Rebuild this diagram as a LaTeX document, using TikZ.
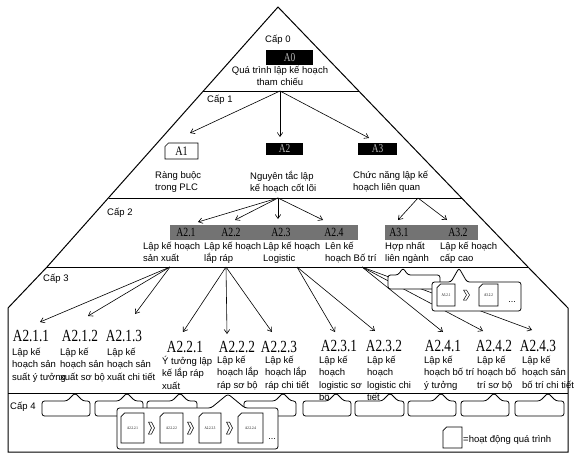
\documentclass[tikz,border=0pt]{standalone}
\usepackage{fontspec}
\setmainfont{Liberation Sans}
\newfontfamily\codefont[FakeStretch=0.78]{Liberation Serif}
\usetikzlibrary{arrows.meta,calc}

\tikzset{
  lbl/.style={font=\fontsize{9.5}{12.3}\selectfont, inner sep=0pt, align=left, anchor=north west},
  capl/.style={font=\fontsize{9.5}{12}\selectfont, inner sep=0pt, anchor=west},
  code/.style={font=\codefont\fontsize{17}{18}\selectfont, inner sep=0pt},
  bandcode/.style={font=\codefont\fontsize{12.5}{13}\selectfont, inner sep=0pt},
  arr/.style={-{Straight Barb[length=4pt,width=5.5pt]}, line width=0.6pt},
  outline/.style={line width=1pt, line join=miter},
  callbox/.style={draw=black, fill=white, line width=0.8pt, rounded corners=2.5pt},
  docline/.style={draw=black, fill=white, line width=0.7pt},
  chevl/.style={draw=black, line width=0.5pt, line join=miter},
  blackbox/.style={fill=black, inner sep=0pt, text=gray!55, font=\codefont\fontsize{12}{12}\selectfont},
  grayband/.style={fill=black!55, draw=none},
}

\newcommand\callout[7]{%
  \filldraw[callbox] (#1,#2) -- ({#5-#6},#2) -- (#5,#7) -- ({#5+#6},#2) -- (#3,#2) -- (#3,#4) -- (#1,#4) -- cycle;}
\newcommand\docbox[6]{%
  \filldraw[docline] ({#2-#4/2+3.5},{#3-#5/2}) -- ({#2+#4/2},{#3-#5/2}) -- ({#2+#4/2},{#3+#5/2}) -- ({#2-#4/2},{#3+#5/2}) -- ({#2-#4/2},{#3-#5/2+3.5}) -- cycle;
  \node[inner sep=0pt] (#1) at (#2,#3) {#6};}
\newcommand\chev[3]{%
  \draw[chevl] ({#1-2.5},{#2-#3}) -- ({#1+0.5},{#2-#3}) -- ({#1+3.5},#2) -- ({#1+0.5},{#2+#3}) -- ({#1-2.5},{#2+#3}) -- ({#1+0.5},#2) -- cycle;}

\begin{document}
\begin{tikzpicture}[x=1pt,y=-1pt]
\path[fill=white,use as bounding box] (0,0) rectangle (576,461);

% ---------- outline ----------
\draw[outline] (278,7) -- (47,267) -- (8,308) -- (8,452) -- (568,452) -- (568,308) -- (528,267) -- cycle;
\draw[outline] (203,91) -- (359,91);
\draw[outline] (109,198) -- (462,198);
\draw[outline] (47,267) -- (528,267);
\draw[outline] (8,393) -- (568,393);

% ---------- level labels ----------
\node[capl] (cap0) at (265,40) {Cấp 0};
\node[capl] (cap1) at (207,100) {Cấp 1};
\node[capl] (cap2) at (107,213) {Cấp 2};
\node[capl] (cap3) at (43,279) {Cấp 3};
\node[capl] (cap4) at (10,407) {Cấp 4};

% ---------- level 0 ----------
\node[blackbox, minimum width=47pt, minimum height=15pt] (a0) at (289.5,57.5) {A0};
\node[lbl, align=center, anchor=north] (t0) at (280,66) {Quá trình lập kế hoạch\\tham chiếu};

% ---------- level 1 ----------
\docbox{a1}{181.5}{151}{33}{16}{\codefont\fontsize{13}{13}\selectfont A1}
\node[blackbox, minimum width=37pt, minimum height=12pt] (a2) at (284.5,149) {A2};
\node[blackbox, minimum width=39pt, minimum height=12pt] (a3) at (377.5,149) {A3};
\node[lbl] (t1) at (155,171) {Ràng buộc\\trong PLC};
\node[lbl] (t2) at (250,171) {Nguyên tắc lập\\kế hoạch cốt lõi};
\node[lbl] (t3) at (353,171) {Chức năng lập kế\\hoạch liên quan};

\coordinate (s0) at (280,91);
\coordinate (e1) at (190,133);
\coordinate (e2) at (280,137);
\coordinate (e3) at (369,138);
\draw[arr] (s0) -- (e1);
\draw[arr] (s0) -- (e2);
\draw[arr] (s0) -- (e3);

% ---------- level 2 ----------
\fill[grayband] (170,225) rectangle (358,240);
\fill[grayband] (385,225) rectangle (478,240);
\node[bandcode] (a21) at (186,232.5) {A2.1};
\node[bandcode] (a22) at (231,232.5) {A2.2};
\node[bandcode] (a23) at (281,232.5) {A2.3};
\node[bandcode] (a24) at (334,232.5) {A2.4};
\node[bandcode] (a31) at (399,232.5) {A3.1};
\node[bandcode] (a32) at (458,232.5) {A3.2};

\node[lbl] (l21) at (143,242) {Lập kế hoạch\\sản xuất};
\node[lbl] (l22) at (204,242) {Lập kế hoạch\\lắp ráp};
\node[lbl] (l23) at (263,242) {Lập kế hoạch\\Logistic};
\node[lbl] (l24) at (325,242) {Lên kế\\hoạch Bố trí};
\node[lbl] (l31) at (385,242) {Hợp nhất\\liên ngành};
\node[lbl] (l32) at (440,242) {Lập kế hoạch\\cấp cao};

\coordinate (s1) at (278,198);
\coordinate (s2) at (418,198);
\coordinate (f1) at (198,222);
\coordinate (f2) at (235,220);
\coordinate (f3) at (278,219);
\coordinate (f4) at (323,220);
\coordinate (f5) at (398,220);
\coordinate (f6) at (447,220);
\draw[arr] (s1) -- (f1);
\draw[arr] (s1) -- (f2);
\draw[arr] (s1) -- (f3);
\draw[arr] (s1) -- (f4);
\draw[arr] (s2) -- (f5);
\draw[arr] (s2) -- (f6);

% ---------- level 3 ----------
\node[code] (c211) at (31,336) {A2.1.1};
\node[code] (c212) at (80,336) {A2.1.2};
\node[code] (c213) at (124,336) {A2.1.3};
\node[code] (c221) at (185,346.5) {A2.2.1};
\node[code] (c222) at (237,346.5) {A2.2.2};
\node[code] (c223) at (279,346.5) {A2.2.3};
\node[code] (c231) at (339,346) {A2.3.1};
\node[code] (c232) at (384,346) {A2.3.2};
\node[code] (c241) at (443,346) {A2.4.1};
\node[code] (c242) at (494,346) {A2.4.2};
\node[code] (c243) at (538,346) {A2.4.3};

\node[lbl] (d211) at (12,348) {Lập kế\\hoạch sản\\suất ý tưởng};
\node[lbl] (d212) at (60,348) {Lập kế\\hoạch sản\\xuất sơ bộ};
\node[lbl] (d213) at (107,348) {Lập kế\\hoạch sản\\xuất chi tiết};
\node[lbl] (d221) at (162,356) {Ý tưởng lập\\kế lắp ráp\\xuất};
\node[lbl] (d222) at (217,356) {Lập kế\\hoạch lắp\\ráp sơ bộ};
\node[lbl] (d223) at (265,356) {Lập kế\\hoạch lắp\\ráp chi tiết};
\node[lbl] (d231) at (319,356) {Lập kế\\hoạch\\logistic sơ\\bộ};
\node[lbl] (d232) at (367,356) {Lập kế\\hoạch\\logistic chi\\tiết};
\node[lbl] (d241) at (424,356) {Lập kế\\hoạch bố trí\\ý tưởng};
\node[lbl] (d242) at (477,356) {Lập kế\\hoạch bố\\trí sơ bộ};
\node[lbl] (d243) at (522,356) {Lập kế\\hoạch sản\\bố trí chi tiết};

\coordinate (s21) at (170,267);
\coordinate (s22) at (226,267);
\coordinate (s23) at (297,267);
\coordinate (s24) at (362,267);
\coordinate (g1) at (40,322);
\coordinate (g2) at (88,316);
\coordinate (g3) at (135,314);
\coordinate (g4) at (183,332);
\coordinate (g5) at (227,334);
\coordinate (g6) at (272,332);
\coordinate (g7) at (335,332);
\coordinate (g8) at (375,331);
\coordinate (g9) at (443,332);
\coordinate (g10) at (483,331);
\coordinate (g11) at (532,330);
\draw[arr] (s21) -- (g1);
\draw[arr] (s21) -- (g2);
\draw[arr] (s21) -- (g3);
\draw[arr] (s22) -- (g4);
\draw[arr] (s22) -- (g5);
\draw[arr] (s22) -- (g6);
\draw[arr] (s23) -- (g7);
\draw[arr] (s23) -- (g8);
\draw[arr] (s24) -- (g9);
\draw[arr] (s24) -- (g10);
\draw[arr] (s24) -- (g11);

% callouts below A3.1 / A3.2
\callout{388}{275}{440}{289}{403}{5}{268}
\callout{432}{282}{521}{311}{459}{8}{268}
\docbox{a321}{446}{295}{18}{22}{\codefont\fontsize{4.2}{5}\selectfont A3.2.1}
\chev{466}{295}{5}
\docbox{a322}{488.5}{295}{19}{22}{\codefont\fontsize{4.2}{5}\selectfont A3.2.2}
\node[inner sep=0pt, font=\fontsize{9}{9}\selectfont] (dots1) at (512,302) {...};

% ---------- level 4 ----------
\foreach \xa/\xb/\n in {42/90/75, 95/143/127, 147/197/180, 244/296/283, 303/351/336, 355/404/390, 408/456/441, 461/509/494, 515/564/548}{
  \callout{\xa}{401}{\xb}{416}{\n}{8}{393}
}
\callout{117}{408}{278}{449}{228}{17}{394}
\docbox{b1}{132.5}{428}{23}{30}{\codefont\fontsize{4}{5}\selectfont A2.2.2.1}
\chev{151}{428}{6}
\docbox{b2}{171.5}{428}{23}{30}{\codefont\fontsize{4}{5}\selectfont A2.2.2.2}
\chev{190}{428}{6}
\docbox{b3}{210}{428}{22}{30}{\codefont\fontsize{4}{5}\selectfont A2.2.2.3}
\chev{229}{428}{6}
\docbox{b4}{250.5}{428}{25}{30}{\codefont\fontsize{4}{5}\selectfont A2.2.2.4}
\node[inner sep=0pt, font=\fontsize{9}{9}\selectfont] (dots2) at (272,439) {...};

% legend
\docbox{leg}{452.5}{437.5}{19}{21}{}
\node[capl] (legt) at (463,440) {=hoạt động quá trình};

\end{tikzpicture}
\end{document}
